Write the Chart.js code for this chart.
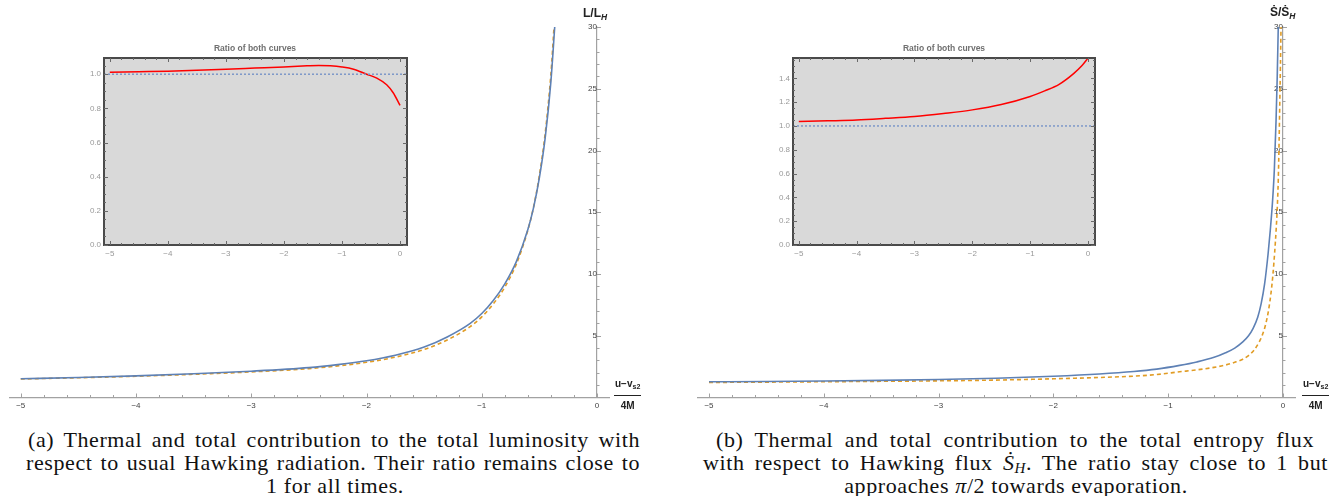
<!DOCTYPE html>
<html>
<head>
<meta charset="utf-8">
<script src="https://cdn.jsdelivr.net/npm/chart.js@4.4.1/dist/chart.umd.min.js"></script>
<style>
  body { margin: 0; width: 1340px; height: 496px; background: #fff; position: relative; overflow: hidden; }
  canvas { position: absolute; }
  .lab { position: absolute; font: bold 12px "Liberation Sans", Arial, sans-serif; color: #222; white-space: nowrap; }
  .lab sub { font-size: 8.5px; font-style: italic; vertical-align: -3px; }
  .frac { position: absolute; font: bold 10px "Liberation Sans", Arial, sans-serif; color: #222; text-align: center; white-space: nowrap; }
  .frac .num { border-bottom: 1.6px solid #222; padding: 0 1px 2px; line-height: 12px; }
  .frac .num sub { font-size: 7px; vertical-align: -2px; }
  .frac .den { padding-top: 4px; line-height: 12px; }
  .ititle { position: absolute; font: bold 8.5px "Liberation Sans", Arial, sans-serif; color: #707070; transform: translateX(-50%); white-space: nowrap; }
  .cap { position: absolute; font: 22px "Liberation Serif", "Times New Roman", serif; color: #111; white-space: nowrap; line-height: 23px; letter-spacing: 0.6px; }
  .cap.j { white-space: normal; text-align: justify; text-align-last: justify; }
  .cap.c { transform: translateX(-50%); }
  .cap sub { font-size: 15px; vertical-align: -3px; }
</style>
</head>
<body>

<canvas id="mainL" width="670" height="420" style="left:0;top:0"></canvas>
<canvas id="mainR" width="670" height="420" style="left:670px;top:0"></canvas>
<canvas id="insetL" width="380" height="230" style="left:40px;top:36px"></canvas>
<canvas id="insetR" width="380" height="230" style="left:730px;top:36px"></canvas>

<div class="lab" style="left:583px;top:6px">L/L<sub>H</sub></div>
<div class="lab" style="left:1270px;top:5px">Ṡ/Ṡ<sub>H</sub></div>

<div class="frac" style="left:614px;top:378px"><div class="num">u−v<sub>s2</sub></div><div class="den">4M</div></div>
<div class="frac" style="left:1302px;top:378px"><div class="num">u−v<sub>s2</sub></div><div class="den">4M</div></div>

<div class="ititle" style="left:255px;top:43px">Ratio of both curves</div>
<div class="ititle" style="left:944px;top:43px">Ratio of both curves</div>

<div class="cap j" style="left:28px;top:428px;width:612px">(a) Thermal and total contribution to the total luminosity with</div>
<div class="cap j" style="left:26px;top:451px;width:614px">respect to usual Hawking radiation. Their ratio remains close to</div>
<div class="cap c" style="left:335px;top:474px">1 for all times.</div>
<div class="cap j" style="left:716px;top:428px;width:598px">(b) Thermal and total contribution to the total entropy flux</div>
<div class="cap j" style="left:703px;top:451px;width:625px">with respect to Hawking flux <i>Ṡ</i><sub><i>H</i></sub>. The ratio stay close to 1 but</div>
<div class="cap c" style="left:1016px;top:474px">approaches <i>π</i>/2 towards evaporation.</div>

<script>
'use strict';

/* global Chart */

// ---- data ----
// (a) luminosity, L / L_H
const lumTotalX   = [-5, -4.5, -4, -3.5, -3, -2.5, -2.25, -2, -1.75, -1.5, -1.3, -1.1, -1, -0.9, -0.8, -0.7, -0.6, -0.55, -0.5, -0.45, -0.4, -0.367];
const lumTotal    = [1.52, 1.62, 1.75, 1.92, 2.13, 2.42, 2.66, 2.97, 3.42, 4.08, 4.9, 6.0, 6.8, 7.85, 9.2, 11.0, 13.6, 15.4, 17.8, 21.0, 25.6, 30];
const lumThermalX = [-5, -4.5, -4, -3.5, -3, -2.5, -2.25, -2, -1.75, -1.5, -1.3, -1.1, -1, -0.9, -0.8, -0.7, -0.6, -0.55, -0.5, -0.45, -0.4, -0.373];
const lumThermal  = [1.50, 1.60, 1.72, 1.88, 2.07, 2.34, 2.56, 2.85, 3.27, 3.89, 4.66, 5.74, 6.53, 7.58, 8.94, 10.8, 13.55, 15.45, 17.98, 21.36, 26.2, 30];

// (a) inset: ratio of both curves
const lumRatioX = [-5, -4.5, -4, -3.5, -3, -2.5, -2, -1.6, -1.4, -1.2, -1, -0.8, -0.575, -0.4, -0.23, -0.115, 0];
const lumRatio  = [1.012, 1.015, 1.018, 1.023, 1.029, 1.036, 1.043, 1.049, 1.051, 1.049, 1.042, 1.029, 1.0, 0.977, 0.938, 0.89, 0.817];

// (b) entropy flux, S' / S'_H
const entTotalX   = [-5, -4.5, -4, -3.5, -3, -2.5, -2, -1.6, -1.3, -1.1, -0.9, -0.75, -0.6, -0.5, -0.42, -0.35, -0.3, -0.26, -0.22, -0.19, -0.16, -0.13, -0.11, -0.09, -0.075, -0.06, -0.05, -0.041];
const entTotal    = [1.27, 1.30, 1.34, 1.39, 1.46, 1.56, 1.72, 1.90, 2.10, 2.30, 2.60, 2.88, 3.25, 3.62, 4.0, 4.5, 5.0, 5.6, 6.5, 7.6, 9.2, 11.6, 13.6, 16.0, 18.5, 22.5, 26.0, 30];
const entThermalX = [-5, -4.5, -4, -3.5, -3, -2.5, -2, -1.6, -1.3, -1.1, -0.9, -0.75, -0.6, -0.5, -0.42, -0.35, -0.3, -0.25, -0.21, -0.18, -0.15, -0.125, -0.105, -0.088, -0.072, -0.06, -0.05, -0.041, -0.034, -0.028, -0.022, -0.017];
const entThermal  = [1.22, 1.245, 1.275, 1.31, 1.35, 1.41, 1.515, 1.62, 1.73, 1.86, 2.08, 2.24, 2.44, 2.63, 2.85, 3.1, 3.4, 3.85, 4.45, 5.05, 5.95, 7.1, 8.4, 9.9, 11.8, 13.5, 15.3, 17.6, 20.6, 23.7, 26.9, 30];

// (b) inset: ratio of both curves
const entRatioX = [-5, -4.5, -4, -3.5, -3, -2.5, -2, -1.5, -1, -0.75, -0.5, -0.25, -0.1, 0];
const entRatio  = [1.037, 1.043, 1.05, 1.064, 1.08, 1.105, 1.135, 1.18, 1.248, 1.295, 1.35, 1.44, 1.51, 1.57];

// reference level 1 in the insets
const unitX = [-5.1, 0.12];
const unitY = [1, 1];

// ---- styles ----
const BLUE = '#5e81b5';
const ORANGE = '#e19c24';
const RED = '#ff0000';
const DOTBLUE = '#7d98c8';
const AXIS = '#a2a2a2';
const MINUS = '\u2212';

Chart.defaults.font.family = '"Liberation Sans", Arial, sans-serif';

const pts = (xs, ys) => xs.map((x, i) => ({ x, y: ys[i] }));
const near = (v, step) => Math.abs(v / step - Math.round(v / step)) < 1e-6;
const fmtInt = v => (Math.round(v) === 0 ? '0' : (v < 0 ? MINUS : '') + Math.abs(Math.round(v)));

// tick marks drawn from the scales' own ticks
const tickMarks = {
  id: 'tickMarks',
  afterDatasetsDraw(chart, args, opts) {
    const { ctx, chartArea: a, scales: { x, y } } = chart;
    ctx.save();
    ctx.strokeStyle = opts.color;
    ctx.lineWidth = 1;
    const mark = (x1, y1, x2, y2) => { ctx.beginPath(); ctx.moveTo(x1, y1); ctx.lineTo(x2, y2); ctx.stroke(); };
    if (opts.frame) {
      x.ticks.forEach(t => {
        const px = Math.round(x.getPixelForValue(t.value)) + 0.5;
        const len = t.label ? opts.major : opts.minor;
        mark(px, a.bottom, px, a.bottom - len);
        mark(px, a.top, px, a.top + len);
      });
      y.ticks.forEach(t => {
        const py = Math.round(y.getPixelForValue(t.value)) + 0.5;
        const len = t.label ? opts.major : opts.minor;
        mark(a.left, py, a.left + len, py);
        mark(a.right, py, a.right - len, py);
      });
    } else {
      const y0 = y.getPixelForValue(0), x0 = x.getPixelForValue(0);
      x.ticks.forEach(t => {
        const px = Math.round(x.getPixelForValue(t.value)) + 0.5;
        mark(px, y0, px, y0 - (t.label ? opts.major : opts.minor));
      });
      y.ticks.forEach(t => {
        if (t.value === 0) return;
        const py = Math.round(y.getPixelForValue(t.value)) + 0.5;
        mark(x0, py, x0 + (t.label ? opts.major : opts.minor), py);
      });
    }
    ctx.restore();
  }
};

// grey panel + dark frame for the insets
const insetFrame = {
  id: 'insetFrame',
  beforeDraw(chart) {
    const { ctx, chartArea: a } = chart;
    ctx.save();
    ctx.fillStyle = '#d9d9d9';
    ctx.fillRect(a.left, a.top, a.right - a.left, a.bottom - a.top);
    ctx.restore();
  },
  afterDatasetsDraw(chart) {
    const { ctx, chartArea: a } = chart;
    ctx.save();
    ctx.strokeStyle = '#4a4a4a';
    ctx.lineWidth = 2;
    ctx.strokeRect(a.left, a.top, a.right - a.left, a.bottom - a.top);
    ctx.restore();
  }
};

function mainChart(id, tx, ty, hx, hy, pad) {
  return new Chart(document.getElementById(id), {
    type: 'line',
    data: {
      datasets: [
        { data: pts(tx, ty), borderColor: BLUE, borderWidth: 1.6, pointRadius: 0, cubicInterpolationMode: 'monotone', fill: false },
        { data: pts(hx, hy), borderColor: ORANGE, borderWidth: 1.6, borderDash: [4, 3], pointRadius: 0, cubicInterpolationMode: 'monotone', fill: false }
      ]
    },
    options: {
      responsive: false, animation: false, events: [],
      layout: { padding: pad },
      plugins: { legend: { display: false }, tooltip: { enabled: false }, tickMarks: { color: AXIS, major: 4, minor: 2.5 } },
      scales: {
        x: {
          type: 'linear', position: { y: 0 }, min: -5.1, max: 0.11,
          grid: { display: true, drawOnChartArea: false, drawTicks: false },
          border: { color: AXIS, width: 1.2 },
          ticks: { stepSize: 0.2, includeBounds: false, autoSkip: false, maxRotation: 0, padding: 3,
                   color: '#444', font: { size: 8 },
                   callback: v => (near(v, 1) ? fmtInt(v) : '') }
        },
        y: {
          type: 'linear', position: { x: 0 }, min: 0, max: 30,
          grid: { display: true, drawOnChartArea: false, drawTicks: false },
          border: { color: AXIS, width: 1.2 },
          ticks: { stepSize: 1, includeBounds: false, autoSkip: false, padding: 4,
                   color: '#444', font: { size: 8 },
                   callback: v => (v !== 0 && v % 5 === 0 ? String(v) : '') }
        }
      }
    },
    plugins: [tickMarks]
  });
}

function insetChart(id, rx, ry, yMax, pad) {
  return new Chart(document.getElementById(id), {
    type: 'line',
    data: {
      datasets: [
        { data: pts(unitX, unitY), borderColor: DOTBLUE, borderWidth: 1.5, borderDash: [2, 2], pointRadius: 0, fill: false },
        { data: pts(rx, ry), borderColor: RED, borderWidth: 1.5, pointRadius: 0, cubicInterpolationMode: 'monotone', fill: false }
      ]
    },
    options: {
      responsive: false, animation: false, events: [],
      layout: { padding: pad },
      plugins: { legend: { display: false }, tooltip: { enabled: false }, tickMarks: { frame: true, color: '#6a6a6a', major: 4, minor: 2 } },
      scales: {
        x: {
          type: 'linear', min: -5.1, max: 0.12,
          afterFit: s => { s.height = 16; },
          grid: { display: true, drawOnChartArea: false, drawTicks: false },
          border: { display: false },
          ticks: { stepSize: 0.2, includeBounds: false, autoSkip: false, maxRotation: 0, padding: 4,
                   color: '#999', font: { size: 8 },
                   callback: v => (near(v, 1) ? fmtInt(v) : '') }
        },
        y: {
          type: 'linear', min: 0, max: yMax,
          afterFit: s => { s.width = 20; },
          grid: { display: true, drawOnChartArea: false, drawTicks: false },
          border: { display: false },
          ticks: { stepSize: 0.05, includeBounds: false, autoSkip: false, padding: 3,
                   color: '#999', font: { size: 8 },
                   callback: v => (near(v, 0.2) ? v.toFixed(1) : '') }
        }
      }
    },
    plugins: [insetFrame, tickMarks]
  });
}

mainChart('mainL', lumTotalX, lumTotal, lumThermalX, lumThermal, { left: 9.2, right: 60.3, top: 27, bottom: 22.5 });
mainChart('mainR', entTotalX, entTotal, entThermalX, entThermal, { left: 27.5, right: 44.4, top: 27, bottom: 22.5 });
insetChart('insetL', lumRatioX, lumRatio, 1.095, { left: 44, right: 13, top: 22, bottom: 5 });
insetChart('insetR', entRatioX, entRatio, Math.PI / 2, { left: 43, right: 15, top: 22, bottom: 5 });
</script>
</body>
</html>
